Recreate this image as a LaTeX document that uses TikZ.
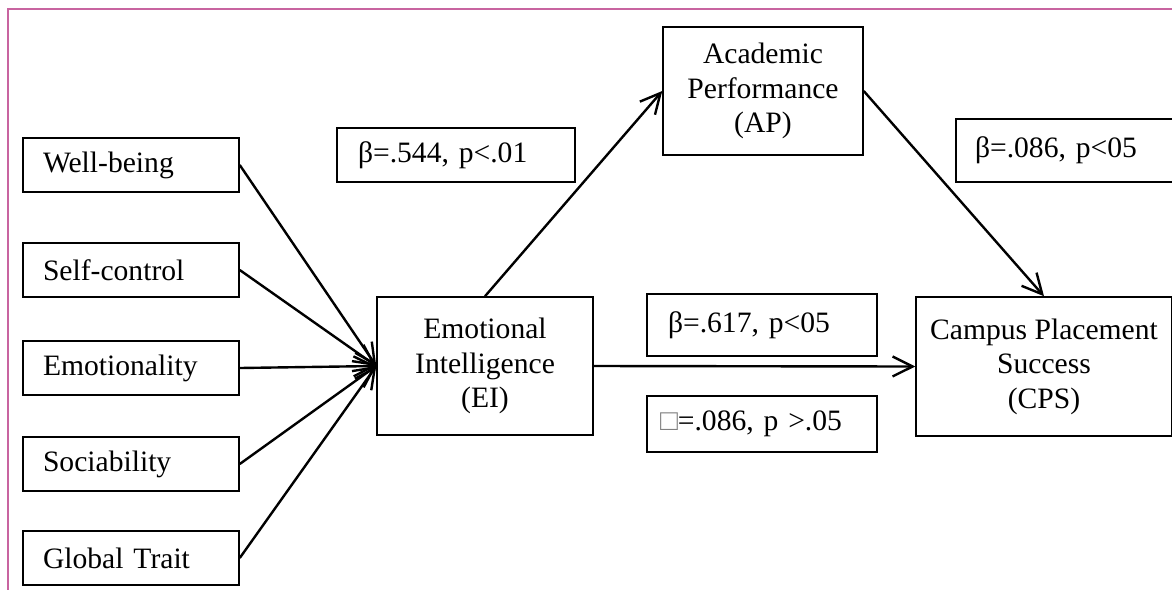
\documentclass[tikz,border=0pt]{standalone}
\usepackage{fontspec}
\setmainfont{Liberation Serif}
\usetikzlibrary{arrows.meta}
\definecolor{framepink}{RGB}{200,100,160}
\begin{document}
\begin{tikzpicture}[x=0.5pt,y=-0.5pt,
  font=\fontsize{14.8}{17.3}\selectfont,
  box/.style={draw,line width=0.75pt,inner ysep=0pt},
  trait/.style={box,minimum height=27pt,text width=88pt,inner xsep=10pt,align=left},
  arr/.style={line width=1.2pt,-{Straight Barb[length=10pt,width=10pt,line width=1.2pt]}}]
\useasboundingbox (0,0) rectangle (1172,590);
\draw[framepink,line width=0.7pt] (1172,9) -- (8,9) -- (8,590);

% traits
\node[trait] (wellbeing) at (131,165) {Well-being};
\node[trait] (selfcontrol) at (131,270) {Self-control};
\node[trait] (emotionality) at (131,368) {Emotionality};
\node[trait] (sociability) at (131,464) {Sociability};
\node[trait] (globaltrait) at (131,558) {Global Trait};

% constructs
\node[box,minimum width=108pt,minimum height=69pt,align=center] (ei) at (485,366)
  {Emotional\\Intelligence\\(EI)};
\node[box,minimum width=100pt,minimum height=64pt,align=center] (ap) at (763,91)
  {Academic\\Performance\\(AP)};
\node[box,minimum width=128pt,minimum height=69.5pt,align=center] (cps) at (1044,366.5)
  {Campus Placement\\Success\\(CPS)};

% coefficients
\node[box,minimum height=27pt,text width=98pt,inner xsep=10.5pt,align=left] (b544) at (456,155)
  {β=.544, p<.01};
\node[box,minimum height=31.5pt,text width=93pt,inner xsep=9.5pt,align=left] (b086) at (1068,150.5)
  {β=.086, p<05};
\node[box,minimum height=31pt,text width=94pt,inner xsep=10.5pt,align=left] (b617) at (762,325)
  {β=.617, p<05};
\node[box,minimum height=28pt,text width=102pt,inner xsep=6.5pt,align=left] (bns) at (762,424)
  {{\color{gray}□}=.086, p >.05};

\draw[arr] (wellbeing.east) -- (ei.west);
\draw[arr] (selfcontrol.east) -- (ei.west);
\draw[arr] (emotionality.east) -- (ei.west);
\draw[arr] (sociability.east) -- (ei.west);
\draw[arr] (globaltrait.east) -- (ei.west);

\draw[arr] (ei.north) -- (ap.west);
\draw[arr] (ap.east) -- (cps.north);
\draw[arr] (ei.east) -- (cps.west);
\end{tikzpicture}
\end{document}
